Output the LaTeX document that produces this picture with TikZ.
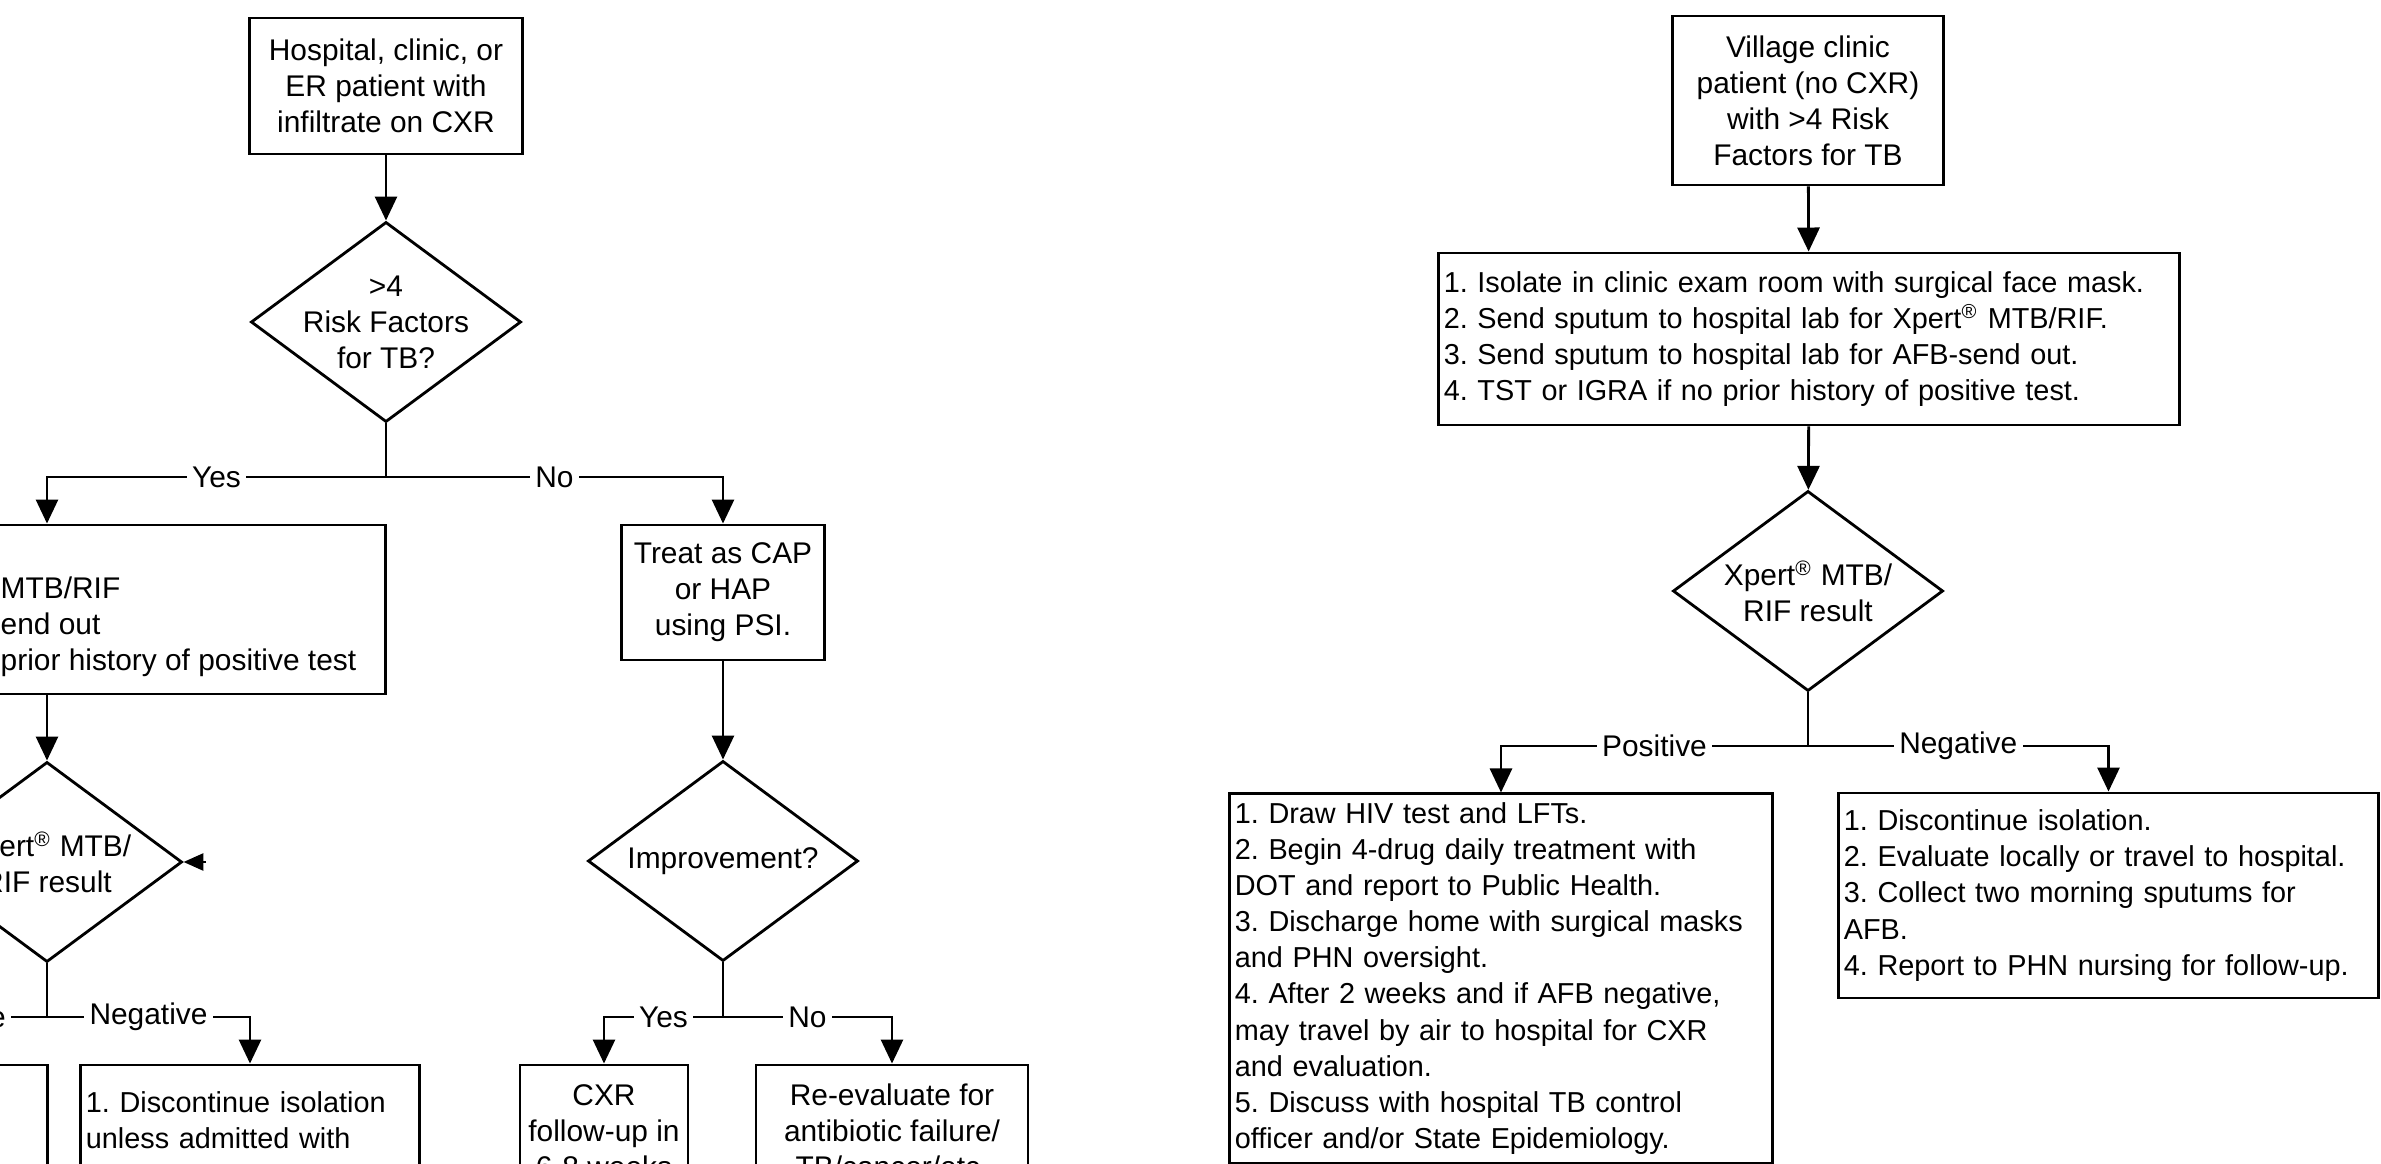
\documentclass[tikz,border=0pt]{standalone}
\usepackage{fontspec}
\setmainfont{Liberation Sans}
\usetikzlibrary{shapes.geometric, arrows.meta}
\newcommand{\px}{0.01cm}
\newcommand{\xpert}{Xpert\textsuperscript{\textregistered}}

\begin{document}
\frenchspacing
\begin{tikzpicture}[x=\px, y=-\px,
    every node/.style={font=\fontsize{8.5pt}{10.25pt}\selectfont},
    box/.style={draw, rectangle, line width=0.8pt, align=center, inner sep=0pt},
    list/.style={draw, rectangle, line width=0.8pt, align=left, inner xsep=0.05cm, inner ysep=0pt,
        font=\fontsize{8.2pt}{10.25pt}\selectfont},
    dia/.style={draw, diamond, line width=0.8pt, minimum width=2.7cm, minimum height=2cm, inner sep=0pt},
    txt/.style={align=center, inner sep=0pt},
    lbl/.style={fill=white, inner sep=1.5pt},
    link/.style={line width=0.8pt},
    arr/.style={line width=0.8pt, -{Triangle[width=0.22cm, length=0.24cm]}},
    tick/.style={line width=0.8pt, -{Triangle[width=0.17cm, length=0.2cm]}}]
    \useasboundingbox (0,0) rectangle (2381,1164);
    \clip (0,0) rectangle (2381,1164);

    % Hospital side
    \node[box, minimum width=2.73cm, minimum height=1.36cm] (hosp) at (386,86) {Hospital, clinic, or\\ER patient with\\infiltrate on CXR};
    \node[dia, label={[txt]center:{>4\\Risk Factors\\for TB?}}] (risk) at (386,322) {};
    \coordinate (split-1) at (386,477);

    \node[box, minimum width=6.76cm, minimum height=1.69cm] (work-1) at (47,609.5) {};
    \node[txt, align=left, anchor=west] (work-txt) at (0,627) {MTB/RIF\\end out\\prior history of positive test};
    \node[dia, label={[txt]center:{\xpert{} MTB/\\RIF result}}] (xpert-1) at (47,862) {};
    \coordinate (stub) at (206,862);
    \coordinate (split-2) at (47,1017);
    \node[box, minimum width=3.74cm, minimum height=3cm] (pos-1) at (-140,1215) {};
    \node[list, text width=3.28cm, minimum height=1.1cm] (neg-1) at (250,1120) {1. Discontinue isolation\\unless admitted with};

    \node[box, minimum width=2.03cm, minimum height=1.35cm] (treat) at (723,592.5) {Treat as CAP\\or HAP\\using PSI.};
    \node[dia, label={[txt]center:{Improvement?}}] (improve) at (723,861) {};
    \coordinate (split-3) at (723,1017);
    \node[box, minimum width=1.68cm, minimum height=1.32cm] (cxr) at (604,1131) {CXR\\follow-up in\\6-8 weeks};
    \node[box, minimum width=2.72cm, minimum height=1.32cm] (reeval) at (892,1131) {Re-evaluate for\\antibiotic failure/\\TB/cancer/etc.};

    % Village side
    \node[box, minimum width=2.71cm, minimum height=1.69cm] (village) at (1808,100.5) {Village clinic\\patient (no CXR)\\with >4 Risk\\Factors for TB};
    \node[list, text width=7.30cm, minimum height=1.72cm] (steps) at (1809,339) {1. Isolate in clinic exam room with surgical face mask.\\2. Send sputum to hospital lab for \xpert{} MTB/RIF.\\3. Send sputum to hospital lab for AFB-send out.\\4. TST or IGRA if no prior history of positive test.};
    \node[dia, label={[txt]center:{\xpert{} MTB/\\RIF result}}] (xpert-2) at (1808,591) {};
    \coordinate (split-4) at (1808,746);
    \node[list, text width=5.32cm, minimum height=3.69cm] (pos-2) at (1501,978.5) {1. Draw HIV test and LFTs.\\2. Begin 4-drug daily treatment with\\DOT and report to Public Health.\\3. Discharge home with surgical masks\\and PHN oversight.\\4. After 2 weeks and if AFB negative,\\may travel by air to hospital for CXR\\and evaluation.\\5. Discuss with hospital TB control\\officer and/or State Epidemiology.};
    \node[list, text width=5.29cm, minimum height=2.05cm] (neg-2) at (2108.5,895.5) {1. Discontinue isolation.\\2. Evaluate locally or travel to hospital.\\3. Collect two morning sputums for\\AFB.\\4. Report to PHN nursing for follow-up.};

    % Connectors
    \draw[arr] (hosp) -- (risk);
    \draw[link] (risk.south) -- (split-1);
    \draw[arr] (split-1) -| node[lbl, pos=0.25] {Yes} (work-1.north);
    \draw[arr] (split-1) -| node[lbl, pos=0.25] {No} (treat.north);
    \draw[arr] (work-1) -- (xpert-1);
    \draw[tick] (stub) -- (xpert-1.east);
    \draw[link] (xpert-1.south) -- (split-2);
    \draw[arr] (split-2) -| node[lbl, pos=0.25] {Positive} (pos-1.north);
    \draw[arr] (split-2) -| node[lbl, pos=0.25] {Negative} (neg-1.north);
    \draw[arr] (treat) -- (improve);
    \draw[link] (improve.south) -- (split-3);
    \draw[arr] (split-3) -| node[lbl, pos=0.25] {Yes} (cxr.north);
    \draw[arr] (split-3) -| node[lbl, pos=0.25] {No} (reeval.north);

    \draw[arr] (village) -- (steps);
    \draw[arr] (steps) -- (xpert-2);
    \draw[link] (xpert-2.south) -- (split-4);
    \draw[arr] (split-4) -| node[lbl, pos=0.25] {Positive} (pos-2.north);
    \draw[arr] (split-4) -| node[lbl, pos=0.25] {Negative} (neg-2.north);
\end{tikzpicture}
\end{document}
